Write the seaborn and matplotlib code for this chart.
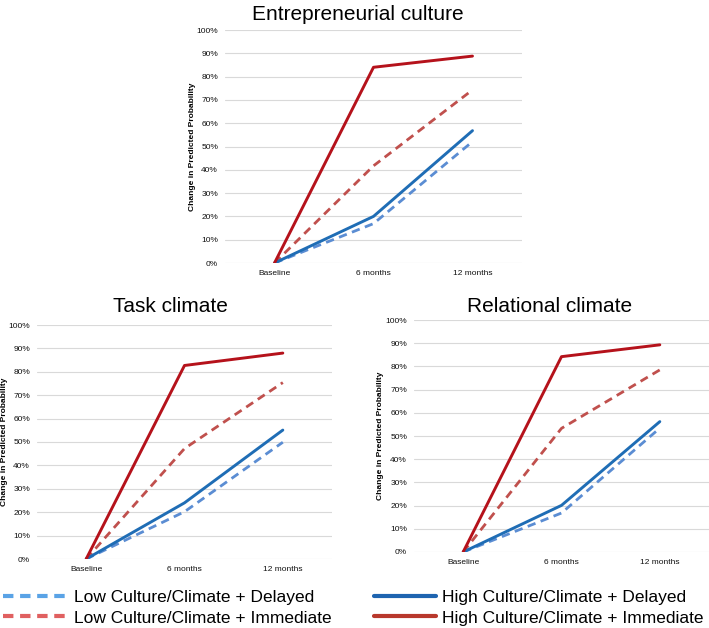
import matplotlib
matplotlib.use("Agg")
import matplotlib.pyplot as plt
from matplotlib.lines import Line2D
from matplotlib.ticker import FuncFormatter, MultipleLocator
import seaborn as sns
import pandas as pd

sns.set_style("white")
plt.rcParams["font.family"] = ["Liberation Sans", "DejaVu Sans"]
plt.rcParams["text.color"] = "black"
plt.rcParams["axes.labelcolor"] = "black"

periods = ["Baseline", "6 months", "12 months"]
series_names = ["Low Culture/Climate + Delayed", "Low Culture/Climate + Immediate",
                "High Culture/Climate + Delayed", "High Culture/Climate + Immediate"]

# Entrepreneurial culture (percent)
ent_low_delayed = [0, 16.9, 52.1]
ent_low_immediate = [0, 41.7, 74.3]
ent_high_delayed = [0, 20.0, 56.8]
ent_high_immediate = [0, 84.0, 88.8]

# Task climate
task_low_delayed = [0, 20.2, 49.9]
task_low_immediate = [0, 47.2, 75.4]
task_high_delayed = [0, 24.0, 55.1]
task_high_immediate = [0, 82.7, 88.0]

# Relational climate
rel_low_delayed = [0, 16.8, 53.4]
rel_low_immediate = [0, 53.3, 78.5]
rel_high_delayed = [0, 20.1, 56.2]
rel_high_immediate = [0, 84.2, 89.3]

panel_titles = ["Entrepreneurial culture", "Task climate", "Relational climate"]
ylabel = "Change in Predicted Probability"

W, H = 709, 628
fig = plt.figure(figsize=(W / 100, H / 100), dpi=100)

def ax_px(left, right, top, bottom):
    return fig.add_axes([left / W, 1 - bottom / H, (right - left) / W, (bottom - top) / H])

line_styles = {
    series_names[0]: dict(color="#5B8DD3", ls=(0, (3, 2)), lw=2.0),
    series_names[1]: dict(color="#C0504D", ls=(0, (3, 2)), lw=2.0),
    series_names[2]: dict(color="#1F6DB5", ls="-", lw=2.1),
    series_names[3]: dict(color="#B5121B", ls="-", lw=2.1),
}

def draw(ax, vals, left_px, label_px, width_px):
    for name, v in zip(series_names, vals):
        df = pd.DataFrame({"period": periods, "value": v})
        st = line_styles[name]
        sns.lineplot(data=df, x="period", y="value", ax=ax, color=st["color"],
                     linewidth=st["lw"], linestyle=st["ls"], sort=False)
    ax.set_xlim(-0.5, 2.5)
    ax.set_ylim(0, 100)
    ax.yaxis.set_major_locator(MultipleLocator(10))
    ax.yaxis.set_major_formatter(FuncFormatter(lambda y, p: f"{int(round(y))}%"))
    ax.grid(axis="y", color="#D9D9D9", linewidth=0.8)
    ax.set_axisbelow(True)
    for s in ax.spines.values():
        s.set_visible(False)
    ax.tick_params(axis="y", labelsize=6, length=0, pad=5, colors="#111111")
    ax.tick_params(axis="x", labelsize=6, length=0, pad=5, colors="#111111")
    ax.set_xlabel("")
    ax.set_ylabel(ylabel, fontsize=6, fontweight="bold")
    ax.yaxis.set_label_coords((label_px - left_px) / width_px, 0.5)
    ax.yaxis.label.set_verticalalignment("center")

ax1 = ax_px(225, 522, 30, 263)
draw(ax1, [ent_low_delayed, ent_low_immediate, ent_high_delayed, ent_high_immediate], 225, 192, 297)
ax2 = ax_px(37, 332, 325, 559)
draw(ax2, [task_low_delayed, task_low_immediate, task_high_delayed, task_high_immediate], 37, 5, 295)
ax3 = ax_px(414, 709, 320, 552)
draw(ax3, [rel_low_delayed, rel_low_immediate, rel_high_delayed, rel_high_immediate], 414, 381, 295)

fig.text(358 / W, 1 - 15 / H, panel_titles[0], ha="center", va="center", fontsize=15)
fig.text(170 / W, 1 - 306 / H, panel_titles[1], ha="center", va="center", fontsize=15)
fig.text(550 / W, 1 - 306 / H, panel_titles[2], ha="center", va="center", fontsize=15)

leg_colors = ["#5AA3E6", "#E06060", "#1E64B0", "#B8382C"]
leg_ls = [(0, (2.5, 1.6)), (0, (2.5, 1.6)), "-", "-"]
handles = [Line2D([], [], color=c, ls=l, lw=3.0) for c, l in zip(leg_colors, leg_ls)]

common = dict(frameon=False, fontsize=12.5, handlelength=3.55,
              labelspacing=0.3, borderpad=0, borderaxespad=0, loc="upper left")
fig.legend(handles[:2], series_names[:2], bbox_to_anchor=(3 / W, 1 - 590 / H),
           handletextpad=0.55, **common)
fig.legend(handles[2:], series_names[2:], bbox_to_anchor=(374 / W, 1 - 590 / H),
           handletextpad=0.35, **common)

fig.savefig("out.png", dpi=100)
